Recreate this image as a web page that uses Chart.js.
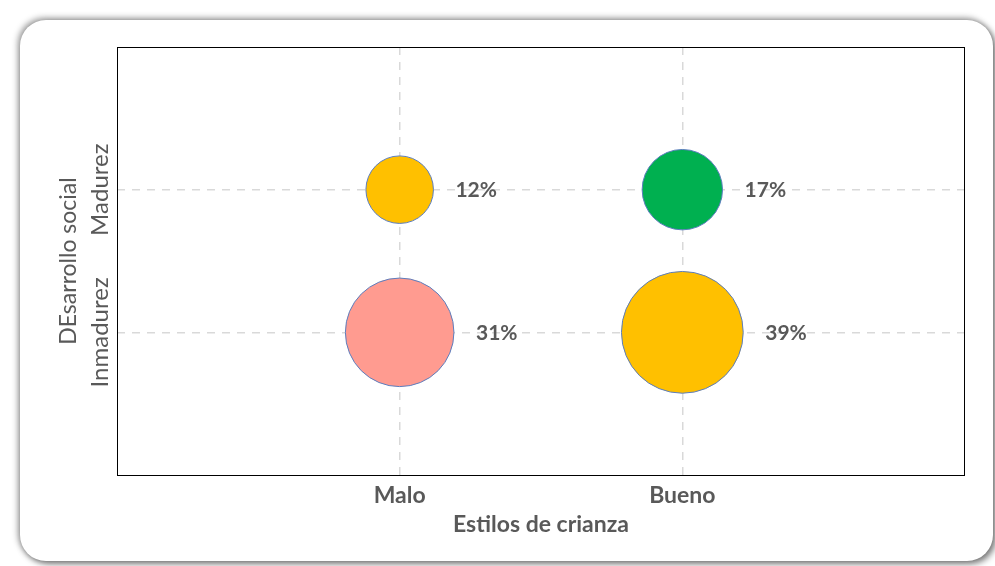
<!DOCTYPE html>
<html>
<head>
<meta charset="utf-8">
<script src="https://cdn.jsdelivr.net/npm/chart.js@4"></script>
<style>
  html, body { margin: 0; padding: 0; background: #fff; overflow: hidden; }
  #card {
    position: absolute; left: 20px; top: 20px; width: 973px; height: 541px;
    background: #fff; border-radius: 26px;
    box-shadow: -2px -2px 6px rgba(0,0,0,0.38), 3px 3px 6px rgba(0,0,0,0.5);
  }
  #wrap { position: absolute; left: 0; top: 0; width: 995px; height: 566px; }
</style>
</head>
<body>
<div id="card"></div>
<div id="wrap"><canvas id="chart"></canvas></div>
<script>
// categorias y valores (porcentajes)
const estilos = ['Malo', 'Bueno'];
const desarrollo = ['Inmadurez', 'Madurez'];
const puntosEstilo = ['Malo', 'Bueno', 'Malo', 'Bueno'];
const puntosDesarrollo = ['Madurez', 'Madurez', 'Inmadurez', 'Inmadurez'];
const porcentajes = [12, 17, 31, 39];
const colores = ['#FFC000', '#00B050', '#FF9B90', '#FFC000'];

const gris = '#595959';
const fuente = 'Lato, "Open Sans", sans-serif';

// etiquetas de porcentaje a la derecha de cada burbuja
const etiquetas = {
  id: 'etiquetas',
  afterDatasetsDraw(chart) {
    const ctx = chart.ctx;
    const meta = chart.getDatasetMeta(0);
    ctx.save();
    ctx.font = 'bold 21px ' + fuente;
    ctx.fillStyle = gris;
    ctx.textAlign = 'left';
    ctx.textBaseline = 'middle';
    meta.data.forEach((el, i) => {
      ctx.fillText(porcentajes[i] + '%', el.x + el.options.radius + 22, el.y + 1);
    });
    ctx.restore();
  }
};

// marco negro del area de trazado
const marco = {
  id: 'marco',
  afterDraw(chart) {
    const a = chart.chartArea;
    const ctx = chart.ctx;
    ctx.save();
    ctx.strokeStyle = '#000';
    ctx.lineWidth = 1;
    ctx.strokeRect(a.left + 0.5, a.top + 0.5, a.right - a.left - 1, a.bottom - a.top);
    ctx.restore();
  }
};

const ctx = document.getElementById('chart').getContext('2d');
new Chart(ctx, {
  type: 'bubble',
  data: {
    datasets: [{
      data: porcentajes.map((v, i) => ({
        x: estilos.indexOf(puntosEstilo[i]) + 1,
        y: desarrollo.indexOf(puntosDesarrollo[i]) + 1,
        r: 9.75 * Math.sqrt(v)
      })),
      backgroundColor: colores,
      borderColor: '#5B7DBE',
      borderWidth: 1
    }]
  },
  options: {
    responsive: true,
    maintainAspectRatio: false,
    animation: false,
    events: [],
    layout: { autoPadding: false, padding: { left: 0, top: 47, right: 30, bottom: 0 } },
    plugins: {
      legend: { display: false },
      tooltip: { enabled: false }
    },
    scales: {
      x: {
        type: 'linear',
        min: 0,
        max: 3,
        afterBuildTicks: s => { s.ticks = [{ value: 1 }, { value: 2 }]; },
        afterFit: s => { s.height = 91; },
        ticks: {
          callback: v => estilos[v - 1],
          color: gris,
          font: { family: fuente, size: 23, weight: 'bold' },
          padding: 7
        },
        grid: { color: '#D9D9D9', lineWidth: 1.5, drawTicks: false },
        border: { display: false, dash: [8, 7] },
        title: {
          display: true,
          text: 'Estilos de crianza',
          color: gris,
          font: { family: fuente, size: 23, weight: 'bold' },
          padding: { top: 0, bottom: 28 }
        }
      },
      y: {
        type: 'linear',
        min: 0,
        max: 3,
        afterBuildTicks: s => { s.ticks = [{ value: 1 }, { value: 2 }]; },
        afterFit: s => { s.width = 117; },
        ticks: {
          callback: v => desarrollo[v - 1],
          color: gris,
          font: { family: fuente, size: 24 },
          minRotation: 90,
          maxRotation: 90,
          crossAlign: 'center',
          padding: -38
        },
        grid: { color: '#D9D9D9', lineWidth: 1.5, drawTicks: false },
        border: { display: false, dash: [8, 7] },
        title: {
          display: true,
          text: 'DEsarrollo social',
          color: gris,
          font: { family: fuente, size: 23 },
          padding: { top: 55, bottom: 0 }
        }
      }
    }
  },
  plugins: [etiquetas, marco]
});
</script>
</body>
</html>
